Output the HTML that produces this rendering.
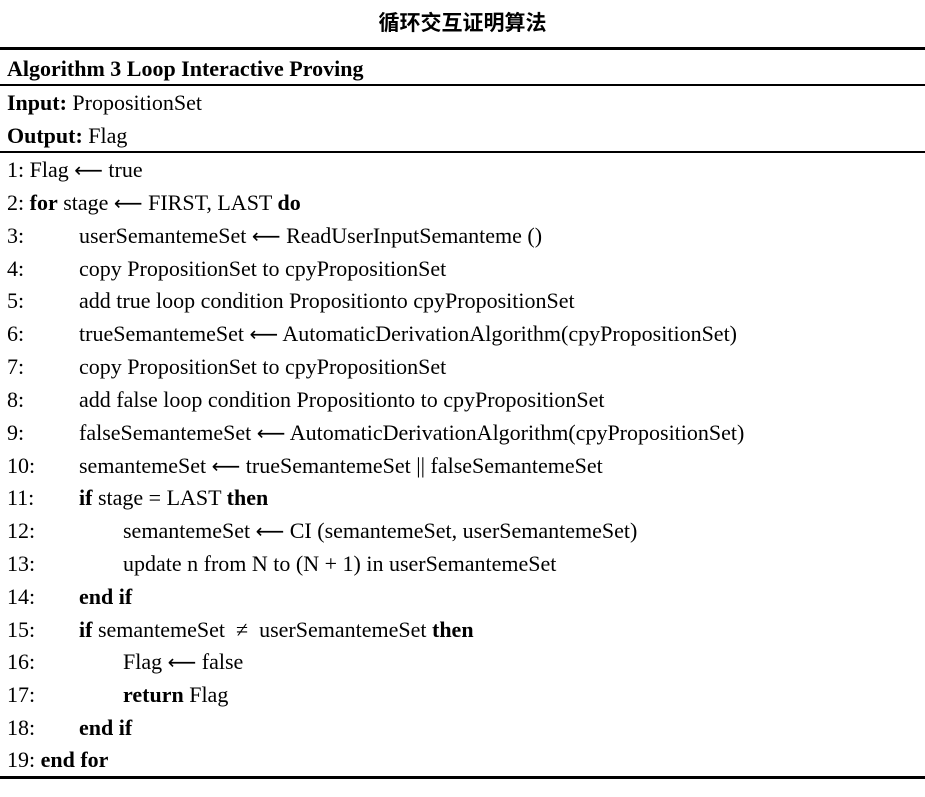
<!DOCTYPE html>
<html><head><meta charset="utf-8"><style>
body{margin:0;width:925px;height:797px;background:#fff;position:relative;overflow:hidden;font-family:"Liberation Serif","Noto Serif CJK SC",serif;color:#000}
.t{position:absolute;left:0;width:925px;text-align:center;top:8px;font-size:21px;font-weight:bold;font-family:"Liberation Sans","Noto Sans CJK SC",sans-serif;line-height:32px}
.h{position:absolute;left:0;width:925px;background:#000}
.r{position:absolute;left:7px;font-size:22px;line-height:32px;white-space:nowrap}
.a{position:absolute;left:72px}
.b{position:absolute;left:116px}
.ar{font-family:"DejaVu Sans",sans-serif;font-size:20px}
</style></head><body>
<div class="t">循环交互证明算法</div>
<div class="h" style="top:47px;height:3px"></div>
<div class="h" style="top:84px;height:2px"></div>
<div class="h" style="top:151px;height:2px"></div>
<div class="h" style="top:776px;height:3px"></div>
<div class="r" style="top:53px"><b>Algorithm 3 Loop Interactive Proving</b></div>
<div class="r" style="top:87px"><b>Input:</b> PropositionSet</div>
<div class="r" style="top:120px"><b>Output:</b> Flag</div>
<div class="r" style="top:154px">1: Flag <span class="ar">⟵</span> true</div>
<div class="r" style="top:187px">2: <b>for</b> stage <span class="ar">⟵</span> FIRST, LAST <b>do</b></div>
<div class="r" style="top:220px;width:900px">3:<span class="a">userSemantemeSet <span class="ar">⟵</span> ReadUserInputSemanteme ()</span></div>
<div class="r" style="top:253px;width:900px">4:<span class="a">copy PropositionSet to cpyPropositionSet</span></div>
<div class="r" style="top:285px;width:900px">5:<span class="a">add true loop condition Propositionto cpyPropositionSet</span></div>
<div class="r" style="top:318px;width:900px">6:<span class="a">trueSemantemeSet <span class="ar">⟵</span> AutomaticDerivationAlgorithm(cpyPropositionSet)</span></div>
<div class="r" style="top:351px;width:900px">7:<span class="a">copy PropositionSet to cpyPropositionSet</span></div>
<div class="r" style="top:384px;width:900px">8:<span class="a">add false loop condition Propositionto to cpyPropositionSet</span></div>
<div class="r" style="top:417px;width:900px">9:<span class="a">falseSemantemeSet <span class="ar">⟵</span> AutomaticDerivationAlgorithm(cpyPropositionSet)</span></div>
<div class="r" style="top:450px;width:900px">10:<span class="a">semantemeSet <span class="ar">⟵</span> trueSemantemeSet || falseSemantemeSet</span></div>
<div class="r" style="top:482px;width:900px">11:<span class="a"><b>if</b> stage = LAST <b>then</b></span></div>
<div class="r" style="top:515px;width:900px">12:<span class="b">semantemeSet <span class="ar">⟵</span> CI (semantemeSet, userSemantemeSet)</span></div>
<div class="r" style="top:548px;width:900px">13:<span class="b">update n from N to (N + 1) in userSemantemeSet</span></div>
<div class="r" style="top:581px;width:900px">14:<span class="a"><b>end if</b></span></div>
<div class="r" style="top:614px;width:900px">15:<span class="a"><b>if</b> semantemeSet &nbsp;≠&nbsp; userSemantemeSet <b>then</b></span></div>
<div class="r" style="top:646px;width:900px">16:<span class="b">Flag <span class="ar">⟵</span> false</span></div>
<div class="r" style="top:679px;width:900px">17:<span class="b"><b>return</b> Flag</span></div>
<div class="r" style="top:712px;width:900px">18:<span class="a"><b>end if</b></span></div>
<div class="r" style="top:744px">19: <b>end for</b></div>
</body></html>
